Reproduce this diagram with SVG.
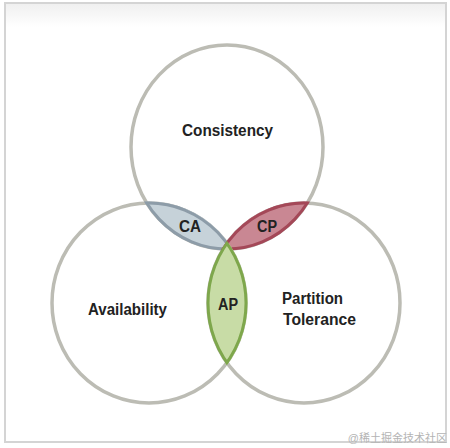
<svg xmlns="http://www.w3.org/2000/svg" width="450" height="448" viewBox="0 0 450 448">
<style>
.ring{fill:none;stroke:#bcbcb4;stroke-width:3.5}
.lbl{font-family:"Liberation Sans",Arial,sans-serif;font-weight:bold;font-size:16px;fill:#222}
.wm{font-family:"Liberation Sans","Noto Sans CJK SC",sans-serif;font-size:11px;fill:#b4b4b4}
</style>
<defs>
<linearGradient id="topband" x1="0" y1="0" x2="0" y2="1">
<stop offset="0" stop-color="#efefef"/>
<stop offset="1" stop-color="#ffffff"/>
</linearGradient>
<clipPath id="cT"><ellipse cx="227" cy="147" rx="97.5" ry="103.5"/></clipPath>
<clipPath id="cL"><ellipse cx="149" cy="303" rx="98.5" ry="101.5"/></clipPath>
<clipPath id="cR"><ellipse cx="304" cy="303" rx="97.5" ry="101.5"/></clipPath>
</defs>
<rect x="0" y="0" width="450" height="448" fill="#ffffff"/>
<rect x="5" y="3" width="441" height="24" fill="url(#topband)"/>
<rect x="5" y="3" width="441" height="439" fill="none" stroke="#d4d4d4" stroke-width="2"/>
<g id="consistency">
<ellipse class="ring" cx="227" cy="147" rx="96" ry="102"/>
</g>
<g id="availability">
<ellipse class="ring" cx="149" cy="303" rx="97" ry="100"/>
</g>
<g id="partition-tolerance">
<ellipse class="ring" cx="304" cy="303" rx="96" ry="100"/>
</g>
<g id="ca">
<g clip-path="url(#cL)"><ellipse cx="227" cy="147" rx="96" ry="102" fill="#c6d2d9" stroke="#8d9ca8" stroke-width="3"/></g>
<g clip-path="url(#cT)"><ellipse cx="149" cy="303" rx="97" ry="100" fill="none" stroke="#8d9ca8" stroke-width="3"/></g>
</g>
<g id="cp">
<g clip-path="url(#cR)"><ellipse cx="227" cy="147" rx="96" ry="102" fill="#c98793" stroke="#a44858" stroke-width="3"/></g>
<g clip-path="url(#cT)"><ellipse cx="304" cy="303" rx="96" ry="100" fill="none" stroke="#a44858" stroke-width="3"/></g>
</g>
<g id="ap">
<g clip-path="url(#cL)"><ellipse cx="304" cy="303" rx="96" ry="100" fill="#c8dca6" stroke="#7ea74c" stroke-width="3"/></g>
<g clip-path="url(#cR)"><ellipse cx="149" cy="303" rx="97" ry="100" fill="none" stroke="#7ea74c" stroke-width="3"/></g>
</g>
<g id="labels">
<text class="lbl" x="182" y="136" textLength="91" lengthAdjust="spacingAndGlyphs">Consistency</text>
<text class="lbl" x="88" y="315" textLength="79" lengthAdjust="spacingAndGlyphs">Availability</text>
<text class="lbl" x="282" y="304" textLength="61" lengthAdjust="spacingAndGlyphs">Partition</text>
<text class="lbl" x="283" y="325" textLength="73" lengthAdjust="spacingAndGlyphs">Tolerance</text>
<text class="lbl" x="179" y="232" textLength="22" lengthAdjust="spacingAndGlyphs">CA</text>
<text class="lbl" x="257" y="232" textLength="20" lengthAdjust="spacingAndGlyphs">CP</text>
<text class="lbl" x="218" y="310" textLength="20" lengthAdjust="spacingAndGlyphs">AP</text>
</g>
<text class="wm" x="447" y="442" text-anchor="end">@稀土掘金技术社区</text>
</svg>
